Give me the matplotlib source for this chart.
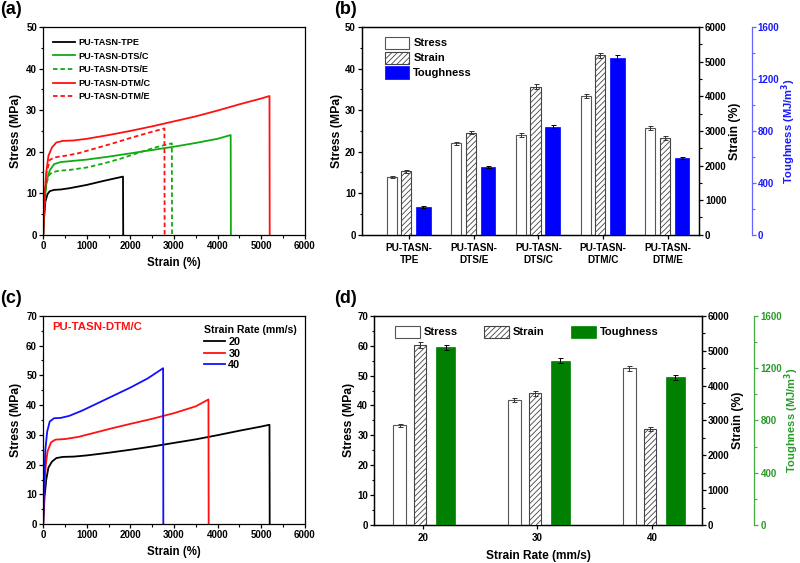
import numpy as np
import matplotlib
matplotlib.use('Agg')
import matplotlib.pyplot as plt
from matplotlib.ticker import MultipleLocator

plt.rcParams['font.family'] = ['Liberation Sans', 'DejaVu Sans']
plt.rcParams['font.weight'] = 'bold'
plt.rcParams['axes.labelweight'] = 'bold'
plt.rcParams['hatch.linewidth'] = 0.6
plt.rcParams['axes.linewidth'] = 0.9

# ---- (a) stress-strain curves of the five samples ----
tpe_x = [0, 20, 50, 100, 150, 250, 400, 600, 1000, 1400, 1830, 1835]
tpe_y = [0, 4, 8, 9.8, 10.5, 10.8, 10.9, 11.2, 12.0, 13.0, 14.0, 0]

dtsc_x = [0, 30, 80, 150, 250, 400, 700, 1000, 1500, 2000, 2500, 3000, 3500, 4000, 4300, 4305]
dtsc_y = [0, 8, 13, 15.5, 17.0, 17.5, 17.8, 18.1, 18.8, 19.6, 20.4, 21.2, 22.1, 23.1, 24.0, 0]

dtse_x = [0, 30, 80, 130, 200, 350, 600, 1000, 1400, 1800, 2200, 2600, 2950, 2955]
dtse_y = [0, 8, 12.5, 14.3, 15.0, 15.4, 15.6, 16.2, 17.2, 18.4, 19.8, 21.1, 22.0, 0]

dtmc_x = [0, 30, 70, 120, 200, 300, 450, 700, 1000, 1500, 2000, 2500, 3000, 3500, 4000, 4500, 5000, 5190, 5195]
dtmc_y = [0, 9, 15, 19, 21, 22.2, 22.6, 22.7, 23.1, 24.0, 25.0, 26.1, 27.3, 28.5, 29.9, 31.4, 32.8, 33.4, 0]

dtme_x = [0, 30, 80, 150, 250, 500, 800, 1200, 1600, 2000, 2400, 2780, 2785]
dtme_y = [0, 9, 15, 18.0, 18.6, 19.0, 19.6, 20.8, 22.0, 23.3, 24.5, 25.6, 0]

# ---- (b) bar summary ----
b_groups = ['PU-TASN-\nTPE', 'PU-TASN-\nDTS/E', 'PU-TASN-\nDTS/C', 'PU-TASN-\nDTM/C', 'PU-TASN-\nDTM/E']
b_stress = [13.9, 22.0, 24.0, 33.3, 25.7]
b_stress_err = [0.3, 0.4, 0.4, 0.5, 0.4]
b_strain = [1836, 2947, 4280, 5179, 2790]
b_strain_err = [40, 50, 70, 80, 50]
b_tough = [214, 523, 832, 1360, 588]
b_tough_err = [5, 8, 15, 22, 8]

# ---- (c) DTM/C at different strain rates ----
r20_x = [0, 30, 70, 120, 200, 300, 450, 700, 1000, 1500, 2000, 2500, 3000, 3500, 4000, 4500, 5000, 5190, 5195]
r20_y = [0, 9, 15, 19, 21, 22.2, 22.6, 22.7, 23.1, 24.0, 25.0, 26.1, 27.3, 28.5, 29.9, 31.4, 32.8, 33.4, 0]
r30_x = [0, 25, 60, 100, 180, 280, 500, 800, 1200, 1600, 2000, 2500, 3000, 3500, 3790, 3795]
r30_y = [0, 12, 20, 24.5, 27.5, 28.4, 28.6, 29.3, 30.8, 32.3, 33.7, 35.4, 37.3, 39.6, 41.9, 0]
r40_x = [0, 20, 50, 90, 150, 250, 400, 600, 900, 1200, 1600, 2000, 2400, 2750, 2755]
r40_y = [0, 14, 25, 31, 34.5, 35.6, 35.7, 36.4, 38.2, 40.3, 43.1, 45.9, 49.0, 52.4, 0]

# ---- (d) bar summary vs strain rate ----
d_rates = [20, 30, 40]
d_stress = [33.3, 41.8, 52.4]
d_stress_err = [0.5, 0.6, 0.7]
d_strain = [5169, 3783, 2752]
d_strain_err = [80, 70, 50]
d_tough = [1358, 1256, 1131]
d_tough_err = [22, 20, 18]

fig = plt.figure(figsize=(8, 5.63), dpi=100)

TICK_FS = 7
XLABEL_FS = 8.3
YLABEL_FS = 8.8


def style_axis(ax):
    ax.tick_params(which='major', length=3, direction='out', labelsize=TICK_FS, width=0.9, pad=1.5)
    ax.tick_params(which='minor', length=1.8, direction='out', width=0.8)
    for lab in ax.get_xticklabels() + ax.get_yticklabels():
        lab.set_fontweight('bold')


def curve_axis(ax, ymax):
    ax.set_xlim(0, 6000)
    ax.set_ylim(0, ymax)
    ax.xaxis.set_major_locator(MultipleLocator(1000))
    ax.xaxis.set_minor_locator(MultipleLocator(500))
    ax.yaxis.set_major_locator(MultipleLocator(10))
    ax.yaxis.set_minor_locator(MultipleLocator(5))
    ax.set_xlabel('Strain (%)', fontsize=XLABEL_FS, labelpad=4)
    ax.set_ylabel('Stress (MPa)', fontsize=YLABEL_FS, labelpad=3)
    style_axis(ax)


# (a)
lw = 1.3
dash = (0, (2.5, 1.6))
ax_a = fig.add_axes([0.054, 0.583, 0.327, 0.369])
ax_a.plot(tpe_x, tpe_y, color='black', lw=lw, label='PU-TASN-TPE')
ax_a.plot(dtsc_x, dtsc_y, color='#11aa11', lw=lw, label='PU-TASN-DTS/C')
ax_a.plot(dtse_x, dtse_y, color='#11aa11', lw=lw, ls=dash, label='PU-TASN-DTS/E')
ax_a.plot(dtmc_x, dtmc_y, color='#ff1111', lw=lw, label='PU-TASN-DTM/C')
ax_a.plot(dtme_x, dtme_y, color='#ff1111', lw=lw, ls=dash, label='PU-TASN-DTM/E')
curve_axis(ax_a, 50)
ax_a.legend(loc='upper left', frameon=False, fontsize=6.6, handlelength=2.4,
            labelspacing=0.5, handletextpad=0.3, borderaxespad=0,
            bbox_to_anchor=(0.025, 0.965))


def bar_panel(rect, x, stress, serr, strain, sterr, tough, terr, offs, widths,
              tcolor, spine_color, label_color):
    ax = fig.add_axes(rect)
    ax2 = ax.twinx()
    ax3 = ax.twinx()
    ax3.spines['right'].set_position(('outward', 38))
    x = np.asarray(x, dtype=float)
    ek = dict(elinewidth=0.7, capsize=1.8, capthick=0.7, ecolor='#333333')
    ax.bar(x + offs[0], stress, widths[0], yerr=serr, color='white',
           edgecolor='#555555', linewidth=0.8, error_kw=ek, label='Stress', zorder=3)
    ax2.bar(x + offs[1], strain, widths[1], yerr=sterr, color='white', hatch='//////',
            edgecolor='#444444', linewidth=0.8, error_kw=ek, label='Strain', zorder=3)
    ax3.bar(x + offs[2], tough, widths[2], yerr=terr, color=tcolor,
            edgecolor=tcolor, linewidth=0.5, error_kw=dict(ek, ecolor='black'),
            label='Toughness', zorder=3)
    ax2.set_ylim(0, 6000)
    ax2.yaxis.set_major_locator(MultipleLocator(1000))
    ax2.yaxis.set_minor_locator(MultipleLocator(500))
    ax2.set_ylabel('Strain (%)', fontsize=YLABEL_FS, labelpad=2)
    ax3.set_ylim(0, 1600)
    ax3.yaxis.set_major_locator(MultipleLocator(400))
    ax3.yaxis.set_minor_locator(MultipleLocator(200))
    ax3.set_ylabel('Toughness (MJ/m$^\\mathbf{3}$)', fontsize=8.0, color=label_color, labelpad=0)
    ax3.spines['right'].set_color(spine_color)
    for s in ['left', 'top', 'bottom']:
        ax3.spines[s].set_visible(False)
    style_axis(ax)
    style_axis(ax2)
    style_axis(ax3)
    ax3.tick_params(axis='y', colors=spine_color, which='both')
    for lab in ax3.get_yticklabels():
        lab.set_color(label_color)
    ax.set_ylabel('Stress (MPa)', fontsize=YLABEL_FS, labelpad=1.5)
    return ax, ax2, ax3


# (b)
b_pos = np.arange(len(b_groups))
ax_b, ax_b2, ax_b3 = bar_panel([0.4525, 0.583, 0.421, 0.369], b_pos,
                               b_stress, b_stress_err, b_strain, b_strain_err,
                               b_tough, b_tough_err,
                               offs=[-0.27, -0.046, 0.22], widths=[0.155, 0.155, 0.23],
                               tcolor='#0000ff', spine_color='#6666ff', label_color='#1a1aff')
ax_b.set_xlim(-0.73, 4.48)
ax_b.set_ylim(0, 50)
ax_b.yaxis.set_major_locator(MultipleLocator(10))
ax_b.yaxis.set_minor_locator(MultipleLocator(5))
ax_b.set_xticks(b_pos)
ax_b.set_xticklabels(b_groups, fontsize=7.2, fontweight='bold', linespacing=1.25)
ax_b.tick_params(axis='x', pad=3)
hb = [ax_b.patches[0], ax_b2.patches[0], ax_b3.patches[0]]
ax_b.legend(hb, ['Stress', 'Strain', 'Toughness'], loc='upper left', frameon=False,
            fontsize=8, handlelength=2.2, handleheight=1.3, labelspacing=0.25,
            handletextpad=0.35, borderaxespad=0, bbox_to_anchor=(0.055, 0.975))

# (c)
ax_c = fig.add_axes([0.054, 0.069, 0.327, 0.370])
ax_c.plot(r20_x, r20_y, color='black', lw=lw, label='20')
ax_c.plot(r30_x, r30_y, color='#ff1111', lw=lw, label='30')
ax_c.plot(r40_x, r40_y, color='#1111ff', lw=lw, label='40')
curve_axis(ax_c, 70)
ax_c.legend(loc='upper left', frameon=False, fontsize=7.8, title='Strain Rate (mm/s)',
            title_fontproperties={'weight': 'bold', 'size': 7.6}, alignment='left',
            handlelength=1.9, labelspacing=0.15, handletextpad=0.3, borderaxespad=0,
            bbox_to_anchor=(0.6, 0.975))
ax_c.text(0.033, 0.947, 'PU-TASN-DTM/C', transform=ax_c.transAxes, color='#ff1111',
          fontsize=8.2, fontweight='bold', va='center')

# (d)
ax_d, ax_d2, ax_d3 = bar_panel([0.468, 0.0675, 0.409, 0.3715], d_rates,
                               d_stress, d_stress_err, d_strain, d_strain_err,
                               d_tough, d_tough_err,
                               offs=[-2.0, -0.2, 2.0], widths=[1.1, 1.05, 1.65],
                               tcolor='#008000', spine_color='#44aa44', label_color='#2a9a2a')
ax_d.set_xlim(15.8, 44.3)
ax_d.set_ylim(0, 70)
ax_d.yaxis.set_major_locator(MultipleLocator(10))
ax_d.yaxis.set_minor_locator(MultipleLocator(5))
ax_d.set_xticks(d_rates)
ax_d.set_xticklabels([str(r) for r in d_rates], fontsize=TICK_FS, fontweight='bold')
ax_d.tick_params(axis='x', pad=3)
ax_d.set_xlabel('Strain Rate (mm/s)', fontsize=8.6, labelpad=5)
hd = [ax_d.patches[0], ax_d2.patches[0], ax_d3.patches[0]]
ax_d.legend(hd, ['Stress', 'Strain', 'Toughness'], loc='upper left', frameon=False,
            fontsize=8, ncol=3, handlelength=2.2, handleheight=1.3, columnspacing=2.4,
            handletextpad=0.35, borderaxespad=0, bbox_to_anchor=(0.05, 0.975))

for lbl, x, y in [('(a)', 0.0, 0.998), ('(b)', 0.418, 0.998), ('(c)', 0.0, 0.485), ('(d)', 0.418, 0.485)]:
    fig.text(x, y, lbl, fontsize=13, fontweight='bold', va='top', ha='left')

fig.savefig('out.png', dpi=100)
